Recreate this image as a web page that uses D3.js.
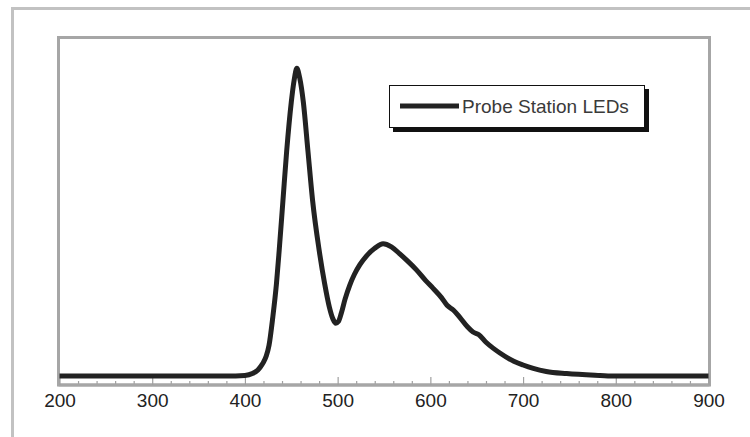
<!DOCTYPE html>
<html>
  <head>
    <meta charset="utf-8">
    <title>Probe Station LEDs spectrum</title>
    <script src="https://d3js.org/d3.v7.min.js"></script>
    <style>
      body { margin: 0; background: #fff; }
      svg { display: block; }
      text { font-family: Arial, "Liberation Sans", sans-serif; }
    </style>
  </head>
  <body>
    <svg id="chart" width="750" height="437"></svg>

    <script>
      // data (wavelength in nm, relative intensity)
      wavelengths = [200, 380, 400, 408, 414, 419, 423, 426, 430, 434, 437, 441, 445, 450, 453, 456, 459, 463, 468, 473, 480, 486, 491, 495, 498, 501, 504, 508, 513, 518, 524, 531, 540, 549, 558, 567, 575, 585, 595, 603, 612, 618, 625, 632, 640, 646, 652, 660, 668, 675, 690, 700, 711, 725, 747, 783, 800, 900];
      intensity = [0, 0, 0.002, 0.008, 0.02, 0.04, 0.065, 0.1, 0.19, 0.3, 0.41, 0.57, 0.73, 0.89, 0.96, 1.0, 0.97, 0.89, 0.73, 0.57, 0.41, 0.3, 0.225, 0.185, 0.172, 0.178, 0.205, 0.25, 0.295, 0.33, 0.362, 0.39, 0.415, 0.43, 0.42, 0.397, 0.375, 0.345, 0.31, 0.285, 0.255, 0.23, 0.214, 0.19, 0.16, 0.143, 0.135, 0.11, 0.09, 0.075, 0.048, 0.036, 0.025, 0.015, 0.008, 0.002, 0, 0];
      xTicks = [200, 300, 400, 500, 600, 700, 800, 900];
      seriesName = "Probe Station LEDs";

      // layout
      svg = d3.select("#chart");
      plot = { left: 58.5, right: 709.5, top: 37.5, bottom: 385 };

      x = d3.scaleLinear()
        .domain([200, 900])
        .range([plot.left + 1, plot.right - 1]);
      y = d3.scaleLinear()
        .domain([-0.029, 1.1])
        .range([plot.bottom, plot.top]);

      // outer panel border (runs off the right and bottom edges)
      svg.append("rect")
        .attr("x", 12.5)
        .attr("y", 8.5)
        .attr("width", 760)
        .attr("height", 450)
        .attr("fill", "#fff")
        .attr("stroke", "#c2c2c2")
        .attr("stroke-width", 3);

      // plot frame
      svg.append("rect")
        .attr("x", plot.left)
        .attr("y", plot.top)
        .attr("width", plot.right - plot.left)
        .attr("height", plot.bottom - plot.top)
        .attr("fill", "#fff")
        .attr("stroke", "#a6a6a6")
        .attr("stroke-width", 3);

      // minor ticks
      minorAxis = d3.axisBottom(x)
        .tickValues(d3.range(220, 900, 20).filter(function(d) { return d % 100 != 0; }))
        .tickSize(-4)
        .tickFormat("");
      svg.append("g")
        .attr("transform", "translate(0," + plot.bottom + ")")
        .call(minorAxis)
        .call(function(g) {
          g.select(".domain").remove();
          g.selectAll("line").attr("stroke", "#a0a0a0").attr("stroke-width", 1.2);
        });

      // major ticks and labels
      xAxis = d3.axisBottom(x)
        .tickValues(xTicks)
        .tickSize(-8)
        .tickPadding(8.5)
        .tickFormat(d3.format("d"));
      svg.append("g")
        .attr("transform", "translate(0," + plot.bottom + ")")
        .call(xAxis)
        .call(function(g) {
          g.select(".domain")
            .attr("stroke", "#a6a6a6")
            .attr("stroke-width", 3)
            .attr("d", "M" + plot.left + ",0H" + plot.right);
          g.selectAll("line").attr("stroke", "#a0a0a0").attr("stroke-width", 1.2);
          g.selectAll("text")
            .attr("fill", "#222")
            .style("font-size", "19px");
        });

      // spectrum
      points = wavelengths.map(function(d, i) { return [d, intensity[i]]; });
      line = d3.line()
        .x(function(d) { return x(d[0]); })
        .y(function(d) { return y(d[1]); })
        .curve(d3.curveMonotoneX);
      svg.append("path")
        .datum(points)
        .attr("d", line)
        .attr("fill", "none")
        .attr("stroke", "#222")
        .attr("stroke-width", 5)
        .attr("stroke-linejoin", "round")
        .attr("stroke-linecap", "butt");

      // legend
      legend = svg.append("g").attr("transform", "translate(389,85)");
      legend.append("rect")
        .attr("x", 4)
        .attr("y", 4)
        .attr("width", 256)
        .attr("height", 43)
        .attr("fill", "#111");
      legend.append("rect")
        .attr("x", 0.5)
        .attr("y", 0.5)
        .attr("width", 255)
        .attr("height", 42)
        .attr("fill", "#fff")
        .attr("stroke", "#111")
        .attr("stroke-width", 1);
      legend.append("line")
        .attr("x1", 11)
        .attr("x2", 70)
        .attr("y1", 21)
        .attr("y2", 21)
        .attr("stroke", "#222")
        .attr("stroke-width", 5);
      legend.append("text")
        .attr("x", 73)
        .attr("y", 28)
        .attr("fill", "#3a3a3a")
        .style("font-size", "19px")
        .text(seriesName);
    </script>
  </body>
</html>
